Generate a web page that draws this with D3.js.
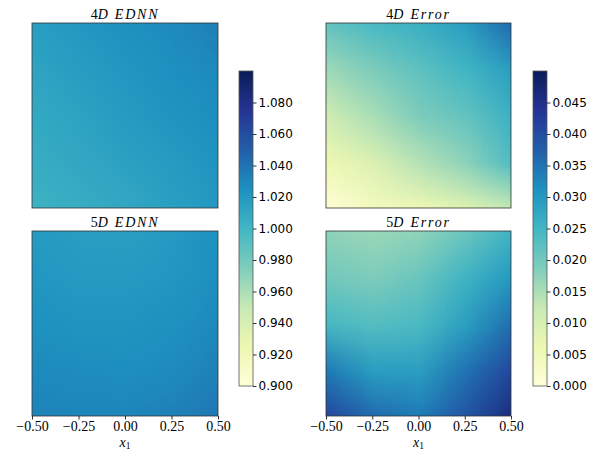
<!DOCTYPE html>
<html>
<head>
<meta charset="utf-8">
<script src="https://cdn.jsdelivr.net/npm/d3@7"></script>
<style>
  body { margin: 0; background: #fff; }
  svg { display: block; }
</style>
</head>
<body>
<div id="chart"></div>
<script>
// ---- data ----
var gridX = [-0.5, -0.25, 0, 0.25, 0.5];   // sample columns (x1)
var gridY = [0.5, 0.25, 0, -0.25, -0.5];   // sample rows, top to bottom
var xTicks = [-0.5, -0.25, 0, 0.25, 0.5];

var ednn4D = [
  [1.016, 1.020, 1.024, 1.028, 1.034],
  [1.012, 1.017, 1.021, 1.025, 1.029],
  [1.009, 1.013, 1.018, 1.022, 1.026],
  [1.006, 1.010, 1.014, 1.018, 1.023],
  [1.002, 1.006, 1.010, 1.015, 1.020]
];
var ednn5D = [
  [1.019, 1.017, 1.016, 1.019, 1.024],
  [1.021, 1.019, 1.019, 1.021, 1.026],
  [1.024, 1.022, 1.022, 1.024, 1.029],
  [1.028, 1.027, 1.026, 1.028, 1.033],
  [1.032, 1.031, 1.031, 1.033, 1.038]
];
var err4D = [
  [0.0215, 0.0240, 0.0260, 0.0290, 0.0360],
  [0.0160, 0.0190, 0.0220, 0.0250, 0.0290],
  [0.0110, 0.0150, 0.0190, 0.0215, 0.0260],
  [0.0060, 0.0090, 0.0140, 0.0175, 0.0235],
  [0.0005, 0.0040, 0.0060, 0.0085, 0.0125]
];
var err5D = [
  [0.0175, 0.0165, 0.0175, 0.0210, 0.0255],
  [0.0200, 0.0190, 0.0210, 0.0255, 0.0300],
  [0.0245, 0.0230, 0.0240, 0.0290, 0.0355],
  [0.0340, 0.0290, 0.0290, 0.0350, 0.0410],
  [0.0410, 0.0360, 0.0340, 0.0390, 0.0460]
];

var ednnDomain = [0.9, 1.1];
var errDomain = [0, 0.05];
var ednnTicks = [0.90, 0.92, 0.94, 0.96, 0.98, 1.00, 1.02, 1.04, 1.06, 1.08];
var errTicks = [0, 0.005, 0.01, 0.015, 0.02, 0.025, 0.03, 0.035, 0.04, 0.045];

// YlGnBu stops
var ylgnbu = ["#ffffd9", "#edf8b1", "#c7e9b4", "#7fcdbb", "#41b6c4",
              "#1d91c0", "#225ea8", "#253494", "#081d58"];

// ---- layout ----
var width = 598, height = 450;
var svg = d3.select("#chart").append("svg")
  .attr("width", width)
  .attr("height", height);

var serif = "'Liberation Serif', 'DejaVu Serif', serif";
var sans = "'DejaVu Sans', sans-serif";

function makeColor(domain) {
  var stops = ylgnbu.map(function(c, i) {
    return domain[0] + (domain[1] - domain[0]) * i / (ylgnbu.length - 1);
  });
  return d3.scaleLinear().domain(stops).range(ylgnbu)
    .interpolate(d3.interpolateRgb).clamp(true);
}
var ednnColor = makeColor(ednnDomain);
var errColor = makeColor(errDomain);

var panels = [
  {lead: "4", rest: "D EDNN", data: ednn4D, color: ednnColor, x0: 32, x1: 218, y0: 23, y1: 208, axis: false},
  {lead: "4", rest: "D Error", data: err4D, color: errColor, x0: 326, x1: 511, y0: 23, y1: 208, axis: false},
  {lead: "5", rest: "D EDNN", data: ednn5D, color: ednnColor, x0: 32, x1: 218, y0: 231, y1: 416, axis: true},
  {lead: "5", rest: "D Error", data: err5D, color: errColor, x0: 326, x1: 511, y0: 231, y1: 416, axis: true}
];

var defs = svg.append("defs");

panels.forEach(function(p, idx) {
  var x = d3.scaleLinear().domain([-0.5, 0.5]).range([p.x0, p.x1]);
  var y = d3.scaleLinear().domain([-0.5, 0.5]).range([p.y1, p.y0]);

  // paint the sample grid into a tiny canvas, one pixel per sample
  var nx = gridX.length, ny = gridY.length;
  var canvas = document.createElement("canvas");
  canvas.width = nx;
  canvas.height = ny;
  var ctx = canvas.getContext("2d");
  p.data.forEach(function(row, j) {
    row.forEach(function(v, i) {
      ctx.fillStyle = p.color(v);
      ctx.fillRect(i, j, 1, 1);
    });
  });

  // pixel centres sit on the sample positions, the browser smooths in between
  var cw = (x(gridX[nx - 1]) - x(gridX[0])) / (nx - 1);
  var ch = (y(gridY[ny - 1]) - y(gridY[0])) / (ny - 1);

  defs.append("clipPath").attr("id", "clip" + idx)
    .append("rect")
    .attr("x", p.x0).attr("y", p.y0)
    .attr("width", p.x1 - p.x0).attr("height", p.y1 - p.y0);

  svg.append("g").attr("clip-path", "url(#clip" + idx + ")")
    .append("image")
    .attr("href", canvas.toDataURL())
    .attr("x", x(gridX[0]) - cw / 2)
    .attr("y", y(gridY[0]) - ch / 2)
    .attr("width", cw * nx)
    .attr("height", ch * ny)
    .attr("preserveAspectRatio", "none");

  // frame
  svg.append("rect")
    .attr("x", p.x0).attr("y", p.y0)
    .attr("width", p.x1 - p.x0).attr("height", p.y1 - p.y0)
    .attr("fill", "none")
    .attr("stroke", "#333")
    .attr("stroke-width", 0.8);

  // title
  var t = svg.append("text")
    .attr("x", (p.x0 + p.x1) / 2)
    .attr("y", p.y0 - 4)
    .attr("text-anchor", "middle")
    .style("font-family", serif)
    .style("font-size", "14px")
    .attr("fill", "#000");
  t.append("tspan").text(p.lead);
  t.append("tspan").style("font-style", "italic").style("letter-spacing", "1.8px").text(p.rest);

  if (p.axis) {
    var ax = svg.append("g")
      .attr("transform", "translate(0," + p.y1 + ")")
      .call(d3.axisBottom(x).tickValues(xTicks).tickSize(3.5).tickPadding(2)
        .tickFormat(function(d) { return d3.format(".2f")(d).replace("-", "\u2212"); }));
    ax.select(".domain").remove();
    ax.selectAll("line").attr("stroke", "#000").attr("stroke-width", 0.8);
    ax.selectAll("text")
      .style("font-family", serif)
      .style("font-size", "14px")
      .attr("fill", "#000");

    var lab = svg.append("text")
      .attr("x", (p.x0 + p.x1) / 2)
      .attr("y", p.y1 + 31)
      .attr("text-anchor", "middle")
      .style("font-family", serif)
      .style("font-size", "14px")
      .attr("fill", "#000");
    lab.append("tspan").style("font-style", "italic").text("x");
    lab.append("tspan").attr("dy", 1.5).style("font-size", "9.5px").text("1");
  }
});

// ---- colorbars ----
function colorbar(x0, domain, color, ticks, fmt, id) {
  var w = 14, top = 71, bottom = 386;
  var cy = d3.scaleLinear().domain(domain).range([bottom, top]);
  var grad = defs.append("linearGradient").attr("id", id)
    .attr("x1", 0).attr("y1", 1).attr("x2", 0).attr("y2", 0);
  ylgnbu.forEach(function(c, i) {
    grad.append("stop")
      .attr("offset", i / (ylgnbu.length - 1))
      .attr("stop-color", c);
  });
  svg.append("rect")
    .attr("x", x0).attr("y", top)
    .attr("width", w).attr("height", bottom - top)
    .attr("fill", "url(#" + id + ")")
    .attr("stroke", "#555")
    .attr("stroke-width", 0.8);

  var ax = svg.append("g")
    .attr("transform", "translate(" + (x0 + w) + ",0)")
    .call(d3.axisRight(cy).tickValues(ticks).tickSize(3.5).tickPadding(2).tickFormat(fmt));
  ax.select(".domain").remove();
  ax.selectAll("line").attr("stroke", "#000").attr("stroke-width", 0.8);
  ax.selectAll("text")
    .style("font-family", sans)
    .style("font-size", "12px")
    .attr("fill", "#000");
}

colorbar(239, ednnDomain, ednnColor, ednnTicks, d3.format(".3f"), "cbEdnn");
colorbar(533, errDomain, errColor, errTicks, d3.format(".3f"), "cbErr");
</script>
</body>
</html>
